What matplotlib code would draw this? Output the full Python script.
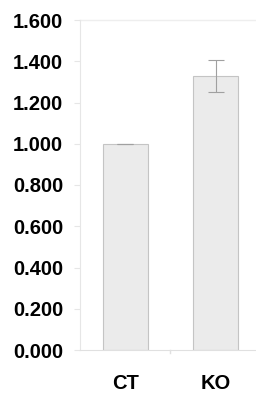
import matplotlib
matplotlib.use("Agg")
import matplotlib.pyplot as plt

# --- données ---
categories = ["CT", "KO"]
values = [1.000, 1.328]
errors = [0.0, 0.077]
ytick_values = [0.0, 0.2, 0.4, 0.6, 0.8, 1.0, 1.2, 1.4, 1.6]
ytick_labels = ["0.000", "0.200", "0.400", "0.600", "0.800",
                "1.000", "1.200", "1.400", "1.600"]

plt.rcParams['font.family'] = ['Liberation Sans', 'DejaVu Sans']

fig = plt.figure(figsize=(2.56, 3.93), dpi=100)
# axes : gauche x=80, droite bord de l'image, y 1.6 -> 20 px, y 0 -> 350 px
ax = fig.add_axes([80 / 256, 43 / 393, 176 / 256, 330 / 393])

x = list(range(len(categories)))
ax.bar(x, values, width=0.5, color='#ebebeb', edgecolor='#c4c4c4', linewidth=0.8,
       yerr=errors, ecolor='#a0a0a0', capsize=6,
       error_kw={'elinewidth': 0.8, 'capthick': 0.8})

ax.set_xlim(-0.5, 1.445)
ax.set_ylim(0, 1.6)
ax.set_yticks(ytick_values)
ax.set_yticklabels(ytick_labels, fontsize=14.5, fontweight='bold')
ax.set_xticks(x)
ax.set_xticklabels(categories, fontsize=14.5, fontweight='bold')

# ligne du haut (1.600) en gris clair
ax.axhline(1.6, color='#eeeeee', linewidth=1.0, clip_on=False)

for side in ['top', 'right']:
    ax.spines[side].set_visible(False)
ax.spines['left'].set_color('#e6e6e6')
ax.spines['bottom'].set_color('#e0e0e0')

ax.tick_params(axis='y', length=4, color='#e6e6e6', pad=8)
ax.tick_params(axis='x', length=0, pad=17)
# petit repère entre les catégories
ax.plot([0.5, 0.5], [0, -0.015], color='#e0e0e0', linewidth=1.0, clip_on=False)

fig.savefig("out.png", dpi=100)
